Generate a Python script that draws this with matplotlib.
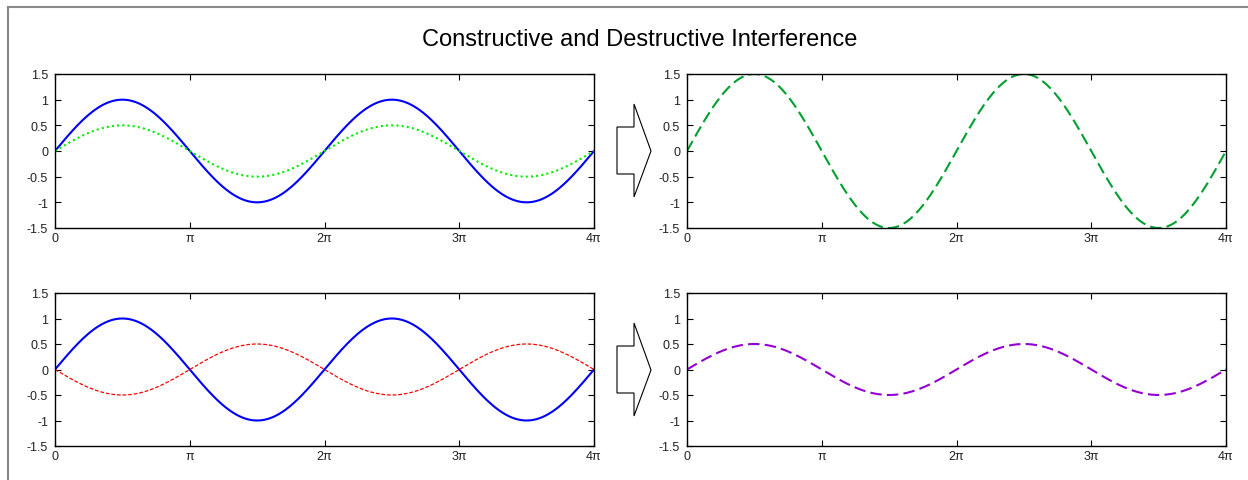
import numpy as np
import matplotlib
matplotlib.use('Agg')
import matplotlib.pyplot as plt
from matplotlib.patches import Polygon
from matplotlib.lines import Line2D

plt.rcParams['font.family'] = ['Liberation Sans', 'DejaVu Sans']

# 数据
title = 'Constructive and Destructive Interference'
x_max = 4 * np.pi
x_tick_values = [0, np.pi, 2 * np.pi, 3 * np.pi, 4 * np.pi]
x_tick_labels = ['0', 'π', '2π', '3π', '4π']
y_tick_values = [-1.5, -1, -0.5, 0, 0.5, 1, 1.5]
y_tick_labels = ['-1.5', '-1', '-0.5', '0', '0.5', '1', '1.5']

# 波的振幅
amp_main = 1.0
amp_constructive = 0.5
amp_destructive = -0.5

x = np.linspace(0, x_max, 600)
wave_main = amp_main * np.sin(x)
wave_con = amp_constructive * np.sin(x)
wave_des = amp_destructive * np.sin(x)
sum_con = wave_main + wave_con
sum_des = wave_main + wave_des

fig = plt.figure(figsize=(12.48, 4.81), dpi=100)

W, H = 1248.0, 481.0
def box(l, t, r, b):
    return [l / W, 1 - b / H, (r - l) / W, (b - t) / H]

ax1 = fig.add_axes(box(55, 75, 594, 229))
ax2 = fig.add_axes(box(687, 75, 1226, 229))
ax3 = fig.add_axes(box(55, 294, 594, 447))
ax4 = fig.add_axes(box(687, 294, 1226, 447))

ax1.plot(x, wave_main, color='#0000ff', lw=1.5)
ax1.plot(x, wave_con, color='#00ee00', lw=1.5, linestyle=(0, (1, 1.5)))
ax2.plot(x, sum_con, color='#00a030', lw=1.5, linestyle=(0, (5.5, 2.5)))
ax3.plot(x, wave_main, color='#0000ff', lw=1.5)
ax3.plot(x, wave_des, color='#ff0000', lw=0.9, linestyle=(0, (3, 1.5)))
ax4.plot(x, sum_des, color='#9400d3', lw=1.5, linestyle=(0, (5.5, 2.5)))

for ax in (ax1, ax2, ax3, ax4):
    ax.set_xlim(0, x_max)
    ax.set_ylim(-1.5, 1.5)
    ax.set_xticks(x_tick_values)
    ax.set_xticklabels(x_tick_labels)
    ax.set_yticks(y_tick_values)
    ax.set_yticklabels(y_tick_labels)
    ax.tick_params(direction='in', length=4, width=0.8, labelsize=9,
                   top=True, right=True, pad=5, colors='black',
                   labelcolor='#222222')
    ax.tick_params(axis='x', pad=3)
    for s in ax.spines.values():
        s.set_linewidth(1.0)

fig.text(640 / W, 1 - 40 / H, title, ha='center', va='center', fontsize=17)

# 箭头
for top in (75, 294):
    pts = [(617, top + 53), (634, top + 53), (634, top + 30), (651, top + 77),
           (634, top + 123), (634, top + 100), (617, top + 100)]
    pts = [(px / W, 1 - py / H) for px, py in pts]
    fig.patches.append(Polygon(pts, closed=True, fill=False, edgecolor='black',
                               lw=0.8, transform=fig.transFigure))

# 外框
fig.lines.append(Line2D([8 / W, 8 / W], [0, 1 - 8 / H], color='#888888', lw=1.5,
                        transform=fig.transFigure))
fig.lines.append(Line2D([8 / W, 1], [1 - 8 / H, 1 - 8 / H], color='#888888', lw=1.5,
                        transform=fig.transFigure))

fig.savefig('out.png', dpi=100)
